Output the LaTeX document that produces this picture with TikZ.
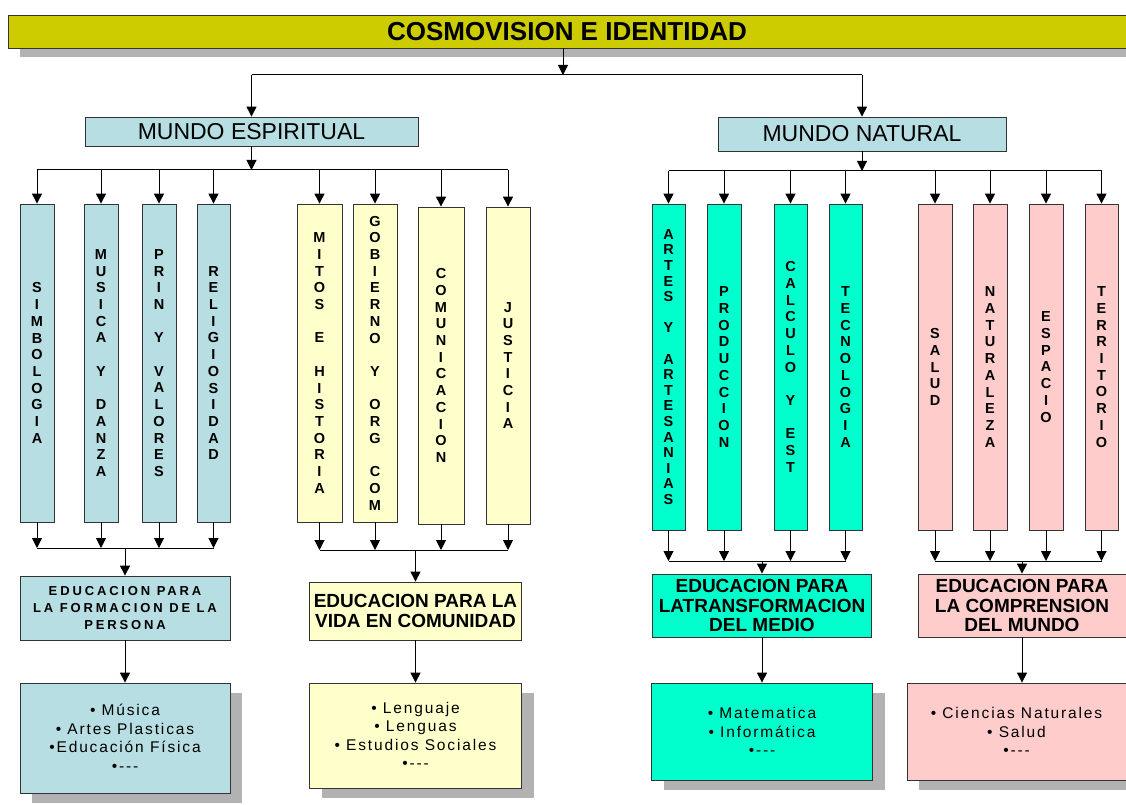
\documentclass[tikz,border=0pt]{standalone}
\usepackage{fontspec}
\setmainfont{Liberation Sans}
\newfontfamily\spacedfont[LetterSpace=22]{Liberation Sans}
\newfontfamily\listfont[LetterSpace=12]{Liberation Sans}
\usepackage{tikz}
\usetikzlibrary{arrows.meta, positioning, shadows}

\definecolor{cosmoyellow}{RGB}{204,204,0}
\definecolor{espblue}{RGB}{183,222,226}
\definecolor{vidayellow}{RGB}{255,255,204}
\definecolor{medioverde}{RGB}{0,255,204}
\definecolor{mundorosa}{RGB}{255,204,204}

\newcommand\vgap{\\[\baselineskip]}

\begin{document}
\begin{tikzpicture}[x=1pt, y=-1pt, line width=1pt, >={Triangle[length=10pt, width=10pt]},
    box/.style={draw=black!80, line width=0.8pt, inner sep=0pt, align=center},
    col/.style={box, minimum width=34pt, minimum height=318pt, font=\fontsize{14.5}{16.7}\selectfont\bfseries},
    edu/.style={box, font=\fontsize{19}{19.5}\selectfont\bfseries},
    lista/.style={box, font=\listfont\fontsize{15.5}{18.5}\selectfont,
        drop shadow={shadow xshift=12pt, shadow yshift=-10pt, fill=black!30, opacity=1}}]
    \useasboundingbox (0,0) rectangle (1126,805);

    % Nodes
    \node[box, fill=cosmoyellow, minimum width=1118pt, minimum height=33pt,
        font=\fontsize{26}{30}\selectfont\bfseries,
        drop shadow={shadow xshift=12pt, shadow yshift=-9pt, fill=black!30, opacity=1}]
        (cosmo) at (567,31.5) {COSMOVISION E IDENTIDAD};
    \node[box, fill=espblue, minimum width=333pt, minimum height=29pt, font=\fontsize{23}{27}\selectfont]
        (espiritual) at (251.5,131.5) {MUNDO ESPIRITUAL};
    \node[box, fill=espblue, minimum width=288pt, minimum height=34pt, font=\fontsize{23}{27}\selectfont]
        (natural) at (862,134) {MUNDO NATURAL};

    % Mundo espiritual
    \node[col, fill=espblue] (simb) at (37,363) {S\\I\\M\\B\\O\\L\\O\\G\\I\\A};
    \node[col, fill=espblue] (musica) at (101,363) {M\\U\\S\\I\\C\\A\vgap Y\vgap D\\A\\N\\Z\\A};
    \node[col, fill=espblue] (prin) at (159,363) {P\\R\\I\\N\vgap Y\vgap V\\A\\L\\O\\R\\E\\S};
    \node[col, fill=espblue, minimum width=33pt] (relig) at (213.5,363) {R\\E\\L\\I\\G\\I\\O\\S\\I\\D\\A\\D};
    \node[col, fill=vidayellow, minimum width=45pt] (mitos) at (319.5,363) {M\\I\\T\\O\\S\vgap E\vgap H\\I\\S\\T\\O\\R\\I\\A};
    \node[col, fill=vidayellow, minimum width=44pt] (gob) at (375,363) {G\\O\\B\\I\\E\\R\\N\\O\vgap Y\vgap O\\R\\G\vgap C\\O\\M};
    \node[col, fill=vidayellow, minimum width=46pt, minimum height=317pt] (comun) at (441,365.5) {C\\O\\M\\U\\N\\I\\C\\A\\C\\I\\O\\N};
    \node[col, fill=vidayellow, minimum width=44pt, minimum height=317pt] (just) at (508,365.5) {J\\U\\S\\T\\I\\C\\I\\A};

    % Mundo natural
    \node[col, fill=medioverde, minimum width=33pt, minimum height=326pt,
        font=\fontsize{14.5}{15.6}\selectfont\bfseries] (artes) at (668.5,367) {A\\R\\T\\E\\S\vgap Y\vgap A\\R\\T\\E\\S\\A\\N\\I\\A\\S};
    \node[col, fill=medioverde, minimum height=326pt] (prod) at (724,367) {P\\R\\O\\D\\U\\C\\C\\I\\O\\N};
    \node[col, fill=medioverde, minimum width=33pt, minimum height=326pt] (calc) at (790.5,367) {C\\A\\L\\C\\U\\L\\O\vgap Y\vgap E\\S\\T};
    \node[col, fill=medioverde, minimum width=33pt, minimum height=326pt] (tecno) at (845.5,367) {T\\E\\C\\N\\O\\L\\O\\G\\I\\A};
    \node[col, fill=mundorosa, minimum height=326pt] (salud) at (935,367) {S\\A\\L\\U\\D};
    \node[col, fill=mundorosa, minimum height=326pt] (natur) at (990,367) {N\\A\\T\\U\\R\\A\\L\\E\\Z\\A};
    \node[col, fill=mundorosa, minimum height=326pt] (espacio) at (1046,367) {E\\S\\P\\A\\C\\I\\O};
    \node[col, fill=mundorosa, minimum width=33pt, minimum height=326pt] (terri) at (1101.5,367) {T\\E\\R\\R\\I\\T\\O\\R\\I\\O};

    % Educacion
    \node[edu, fill=espblue, minimum width=210pt, minimum height=64pt,
        font=\spacedfont\fontsize{13}{17}\selectfont\bfseries]
        (edu1) at (125,608) {EDUCACION PARA\\LA FORMACION DE LA\\PERSONA};
    \node[edu, fill=vidayellow, minimum width=212pt, minimum height=58pt]
        (edu2) at (415.5,611) {EDUCACION PARA LA\\VIDA EN COMUNIDAD};
    \node[edu, fill=medioverde, minimum width=219pt, minimum height=63pt]
        (edu3) at (762,605.5) {EDUCACION PARA\\LATRANSFORMACION\\DEL MEDIO};
    \node[edu, fill=mundorosa, minimum width=208pt, minimum height=63pt]
        (edu4) at (1022,605.5) {EDUCACION PARA\\LA COMPRENSION\\DEL MUNDO};

    % Areas
    \node[lista, fill=espblue, minimum width=210pt, minimum height=110pt]
        (list1) at (125,738) {• Música\\• Artes Plasticas\\•Educación Física\\•-{}-{}-};
    \node[lista, fill=vidayellow, minimum width=212pt, minimum height=105pt]
        (list2) at (415.5,735.5) {• Lenguaje\\• Lenguas\\• Estudios Sociales\\•-{}-{}-};
    \node[lista, fill=medioverde, minimum width=221pt, minimum height=97pt]
        (list3) at (762,731.5) {• Matematica\\• Informática\\•-{}-{}-};
    \node[lista, fill=mundorosa, minimum width=219pt, minimum height=97pt]
        (list4) at (1016.5,731.5) {• Ciencias Naturales\\• Salud\\•-{}-{}-};

    % Top arrows
    \coordinate (topbus) at (563,75);
    \draw[->] (cosmo.south -| topbus) -- (topbus);
    \draw (espiritual.north |- topbus) -- (natural.north |- topbus);
    \draw[->] (espiritual.north |- topbus) -- (espiritual.north);
    \draw[->] (natural.north |- topbus) -- (natural.north);

    % Arrows to the columns
    \coordinate (esbus) at (0,170);
    \coordinate (natbus) at (0,171);
    \draw[->] (espiritual.south) -- (espiritual.south |- esbus);
    \draw (simb.north |- esbus) -- (just.north |- esbus);
    \foreach \c in {simb,musica,prin,relig,mitos,gob,comun,just}
        \draw[->] (\c.north |- esbus) -- (\c.north);
    \draw[->] (natural.south) -- (natural.south |- natbus);
    \draw (artes.north |- natbus) -- (terri.north |- natbus);
    \foreach \c in {artes,prod,calc,tecno,salud,natur,espacio,terri}
        \draw[->] (\c.north |- natbus) -- (\c.north);

    % Arrows to the education boxes
    \coordinate (bus1) at (0,548);
    \coordinate (bus2) at (0,550);
    \coordinate (bus3) at (0,561);
    \foreach \c in {simb,musica,prin,relig}
        \draw[->] (\c.south) -- (\c.south |- bus1);
    \foreach \c in {mitos,gob,comun,just}
        \draw[->] (\c.south) -- (\c.south |- bus2);
    \foreach \c in {artes,prod,calc,tecno,salud,natur,espacio,terri}
        \draw[->] (\c.south) -- (\c.south |- bus3);
    \draw (simb.south |- bus1) -- (relig.south |- bus1);
    \draw (mitos.south |- bus2) -- (just.south |- bus2);
    \draw (artes.south |- bus3) -- (tecno.south |- bus3);
    \draw (salud.south |- bus3) -- (terri.south |- bus3);
    \draw[->] (edu1.north |- bus1) -- (edu1.north);
    \draw[->] (edu2.north |- bus2) -- (edu2.north);
    \draw[->] (edu3.north |- bus3) -- (edu3.north);
    \draw[->] (edu4.north |- bus3) -- (edu4.north);

    % Arrows to the areas
    \draw[->] (edu1.south) -- (edu1.south |- list1.north);
    \draw[->] (edu2.south) -- (edu2.south |- list2.north);
    \draw[->] (edu3.south) -- (edu3.south |- list3.north);
    \draw[->] (edu4.south) -- (edu4.south |- list4.north);
\end{tikzpicture}
\end{document}
